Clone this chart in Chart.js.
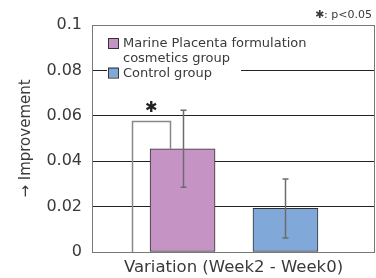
<!DOCTYPE html>
<html>
<head>
<meta charset="utf-8">
<script src="https://cdn.jsdelivr.net/npm/chart.js@4"></script>
<style>
  html, body { margin: 0; padding: 0; background: #fff; }
</style>
</head>
<body>
<canvas id="chart" width="376" height="278"></canvas>
<script>
const groups = ['Marine Placenta formulation cosmetics group', 'Control group'];
const legendLines = [['Marine Placenta formulation', 'cosmetics group'], ['Control group']];
const positions = [1, 2];
const means = [0.0455, 0.0192];
const errors = [0.017, 0.013];
const barColors = ['#c594c4', '#80a8d9'];
const yTicks = [0, 0.02, 0.04, 0.06, 0.08, 0.1];
const yTickLabels = ['0', '0.02', '0.04', '0.06', '0.08', '0.1'];
const sigNote = '✱: p<0.05';

const FONT = '"DejaVu Sans", sans-serif';
const TEXT = '#3a3a3a';

// significance bracket: baseline (left) vs first bar (right)
const bracket = { x0: 0.51, x1: 0.88, top: 0.0575, y0: 0, y1: means[0], mark: '✱' };

const px = v => Math.round(v) + 0.5;

const extras = {
  id: 'extras',
  afterDatasetsDraw(chart) {
    const { ctx, chartArea: a, scales: { x, y } } = chart;
    ctx.save();

    // right frame edge
    ctx.strokeStyle = '#777';
    ctx.lineWidth = 1;
    ctx.beginPath();
    ctx.moveTo(px(a.right) - 1, a.top);
    ctx.lineTo(px(a.right) - 1, a.bottom);
    ctx.stroke();

    // bracket
    ctx.strokeStyle = '#888';
    ctx.lineWidth = 1.5;
    ctx.beginPath();
    ctx.moveTo(px(x.getPixelForValue(bracket.x0)), y.getPixelForValue(bracket.y0));
    ctx.lineTo(px(x.getPixelForValue(bracket.x0)), px(y.getPixelForValue(bracket.top)));
    ctx.lineTo(px(x.getPixelForValue(bracket.x1)), px(y.getPixelForValue(bracket.top)));
    ctx.lineTo(px(x.getPixelForValue(bracket.x1)), y.getPixelForValue(bracket.y1));
    ctx.stroke();
    ctx.fillStyle = '#222';
    ctx.font = '15px "DejaVu Sans", sans-serif';
    ctx.textAlign = 'center';
    ctx.textBaseline = 'middle';
    ctx.fillText(bracket.mark,
      x.getPixelForValue((bracket.x0 + bracket.x1) / 2),
      y.getPixelForValue(bracket.top) - 13);

    // error bars
    ctx.strokeStyle = '#6c6c6c';
    ctx.lineWidth = 1.5;
    positions.forEach((p, i) => {
      const cx = px(x.getPixelForValue(p));
      const hi = y.getPixelForValue(means[i] + errors[i]);
      const lo = y.getPixelForValue(means[i] - errors[i]);
      ctx.beginPath();
      ctx.moveTo(cx, hi); ctx.lineTo(cx, lo);
      ctx.moveTo(cx - 3, hi); ctx.lineTo(cx + 3, hi);
      ctx.moveTo(cx - 3, lo); ctx.lineTo(cx + 3, lo);
      ctx.stroke();
    });

    // legend inside the plot
    const lx = a.left + 15, ly = a.top + 13;
    ctx.fillStyle = '#fff';
    ctx.fillRect(lx, a.top + 8, 134, 52);
    ctx.font = '13px ' + FONT;
    ctx.textAlign = 'left';
    ctx.textBaseline = 'middle';
    let row = 0;
    legendLines.forEach((lines, i) => {
      const by = ly + row * 14.8;
      ctx.fillStyle = barColors[i];
      ctx.fillRect(lx + 1, by, 10, 10);
      ctx.strokeStyle = '#333';
      ctx.lineWidth = 1;
      ctx.strokeRect(lx + 1.5, by + 0.5, 10, 10);
      ctx.fillStyle = TEXT;
      lines.forEach((t, j) => {
        ctx.fillText(t, lx + 16, by + 6 + j * 14.8);
      });
      row += lines.length;
    });

    // significance note
    ctx.font = '11px ' + FONT;
    ctx.textAlign = 'right';
    ctx.fillStyle = TEXT;
    ctx.fillText(sigNote, a.right - 3, 15);

    ctx.restore();
  }
};

new Chart(document.getElementById('chart').getContext('2d'), {
  type: 'bar',
  data: {
    datasets: groups.map((g, i) => ({
      label: g,
      data: [{ x: positions[i], y: means[i] }],
      backgroundColor: barColors[i],
      borderColor: '#333',
      borderWidth: 1,
      borderSkipped: false,
      barThickness: 65,
      grouped: false
    }))
  },
  options: {
    responsive: false,
    animation: false,
    layout: { padding: { top: 25, right: 1, left: 0, bottom: 0 } },
    plugins: { legend: { display: false }, tooltip: { enabled: false } },
    scales: {
      x: {
        type: 'linear',
        offset: false,
        min: 0.12,
        max: 2.87,
        grid: { display: false },
        border: { display: false },
        ticks: { display: false },
        title: {
          display: true,
          text: 'Variation (Week2 - Week0)',
          color: TEXT,
          font: { family: FONT, size: 16.5 },
          padding: { top: 0, bottom: 0 }
        },
        afterFit(s) { s.height = 26; }
      },
      y: {
        min: 0,
        max: 0.1,
        afterBuildTicks(s) { s.ticks = yTicks.map(v => ({ value: v })); },
        ticks: {
          callback: (v, i) => yTickLabels[i],
          color: TEXT,
          font: { family: FONT, size: 16 },
          padding: 10
        },
        grid: {
          drawTicks: false,
          color: c => (c.tick && (c.tick.value === 0 || c.tick.value === 0.1)) ? '#777' : '#222'
        },
        border: { display: true, color: '#777' },
        title: {
          display: true,
          text: '→ Improvement',
          color: TEXT,
          font: { family: FONT, size: 15 },
          padding: { top: 17, bottom: 0 }
        },
        afterFit(s) { s.width = 92; }
      }
    }
  },
  plugins: [extras]
});
</script>
</body>
</html>
